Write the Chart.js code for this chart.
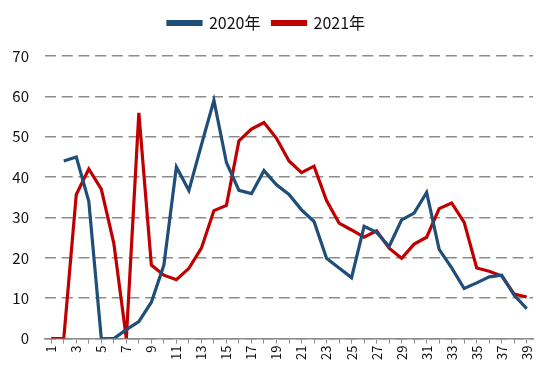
<!DOCTYPE html>
<html>
<head>
<meta charset="utf-8">
<script src="https://cdn.jsdelivr.net/npm/chart.js@4.4.0/dist/chart.umd.min.js"></script>
<style>
  html, body { margin: 0; padding: 0; background: #fff; }
  #wrap { width: 550px; height: 378px; }
</style>
</head>
<body>
<div id="wrap"><canvas id="chart"></canvas></div>
<script>
// week numbers 1..39
const weeks = [];
for (let i = 1; i <= 39; i++) weeks.push(String(i));

const series2020 = [null, 44, 45, 34, 0, 0, 2.2, 4.2, 9, 18.2,
  42.5, 36.7, 48, 59, 43.6, 36.7, 35.9, 41.6, 38.1, 35.7,
  31.9, 29, 19.9, 17.5, 15.1, 27.8, 26.3, 22.8, 29.4, 31.1,
  36.2, 22.1, 17.5, 12.4, 13.8, 15.3, 15.7, 10.7, 7.4];

const series2021 = [0, 0, 35.7, 42, 37, 23.6, 0, 55.9, 18.2, 15.7,
  14.6, 17.4, 22.4, 31.7, 33, 49, 51.9, 53.5, 49.6, 44,
  41.1, 42.7, 34.2, 28.6, 26.9, 25.1, 26.7, 22.4, 19.9, 23.4,
  25.1, 32.2, 33.6, 28.8, 17.5, 16.7, 15.5, 11, 10.3];

const yTicks = [0, 10, 20, 30, 40, 50, 60, 70];

const fontFamily = '"Noto Sans CJK SC", "Noto Sans", sans-serif';

// extra room under the legend
const legendGap = {
  id: 'legendGap',
  beforeInit(chart) {
    const fit = chart.legend.fit;
    chart.legend.fit = function() {
      fit.bind(chart.legend)();
      this.height += 15;
    };
  }
};

new Chart(document.getElementById('chart'), {
  type: 'line',
  data: {
    labels: weeks,
    datasets: [
      {
        label: '2020年',
        data: series2020,
        borderColor: '#1f4e79',
        backgroundColor: '#1f4e79',
        borderWidth: 3.2,
        pointRadius: 0,
        tension: 0
      },
      {
        label: '2021年',
        data: series2021,
        borderColor: '#c00000',
        backgroundColor: '#c00000',
        borderWidth: 3.2,
        pointRadius: 0,
        tension: 0
      }
    ]
  },
  options: {
    responsive: true,
    maintainAspectRatio: false,
    animation: false,
    layout: { padding: { left: 0, right: 17, top: 3, bottom: 16 } },
    plugins: {
      tooltip: { enabled: false },
      legend: {
        position: 'top',
        labels: {
          boxWidth: 33,
          boxHeight: 3,
          padding: 12,
          color: '#111',
          font: { family: fontFamily, size: 16 }
        }
      }
    },
    scales: {
      x: {
        offset: true,
        grid: {
          offset: false,
          drawOnChartArea: false,
          drawTicks: true,
          tickLength: 5,
          color: '#8c8c8c',
          lineWidth: 1
        },
        border: { display: true, color: '#8c8c8c', width: 1.5 },
        ticks: {
          autoSkip: false,
          minRotation: 90,
          maxRotation: 90,
          padding: 2,
          color: '#111',
          font: { family: fontFamily, size: 13 },
          callback: function(value, index) {
            return index % 2 === 0 ? weeks[index] : '';
          }
        }
      },
      y: {
        min: 0,
        max: 70,
        afterBuildTicks: function(scale) {
          scale.ticks = yTicks.map(v => ({ value: v }));
        },
        afterFit: function(scale) {
          scale.width = 45;
        },
        grid: {
          drawTicks: false,
          color: '#8c8c8c',
          lineWidth: 1.6
        },
        border: { display: false, dash: [11, 5.7] },
        ticks: {
          padding: 16,
          color: '#111',
          font: { family: fontFamily, size: 15 }
        }
      }
    }
  },
  plugins: [legendGap]
});
</script>
</body>
</html>
